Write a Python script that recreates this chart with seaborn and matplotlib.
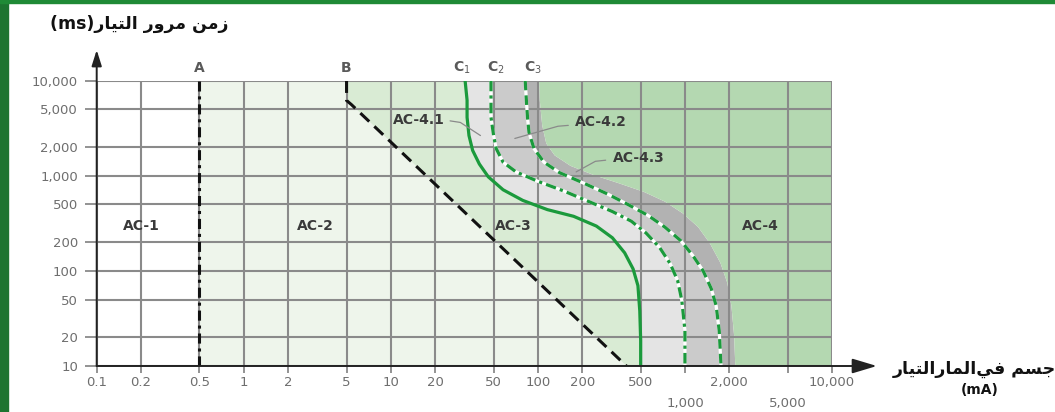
import matplotlib
matplotlib.use("Agg")
import matplotlib.pyplot as plt
import seaborn as sns
from matplotlib.patches import Rectangle
from matplotlib.ticker import FixedLocator, NullLocator

sns.set_theme(style="white")
plt.rcParams['font.family'] = ['DejaVu Sans']

# axis ticks (current in mA, time in ms)
x_ticks = [0.1, 0.2, 0.5, 1, 2, 5, 10, 20, 50, 100, 200, 500, 1000, 2000, 5000, 10000]
x_labels = ['0.1', '0.2', '0.5', '1', '2', '5', '10', '20', '50', '100', '200', '500', '', '2,000', '', '10,000']
x_low_ticks = [1000, 5000]
x_low_labels = ['1,000', '5,000']
y_ticks = [10, 20, 50, 100, 200, 500, 1000, 2000, 5000, 10000]
y_labels = ['10', '20', '50', '100', '200', '500', '1,000', '2,000', '5,000', '10,000']

# boundary curves
line_a_x = [0.5, 0.5]
line_a_y = [10, 10000]
line_b_x = [5, 5, 5.4, 400]
line_b_y = [10000, 6200, 5600, 10]
c1_x = [32, 33, 33, 34, 36, 40, 46, 58, 79, 116, 175, 250, 321, 389, 444, 479, 493, 500, 500]
c1_y = [10000, 6240, 4120, 2650, 1850, 1330, 975, 713, 551, 441, 375, 296, 223, 155, 105, 70, 38, 18.5, 10]
c2_x = [48, 48, 48, 50, 52, 58, 71, 99, 149, 222, 321, 432, 543, 673, 794, 892, 952, 1000, 1000]
c2_y = [10000, 6240, 4120, 2650, 1940, 1390, 1100, 880, 695, 536, 421, 333, 251, 176, 119, 79, 49, 23.6, 10]
c3_x = [82, 83.5, 85, 87, 94, 110, 141, 206, 298, 412, 561, 730, 936, 1135, 1330, 1510, 1630, 1710, 1760]
c3_y = [10000, 6240, 4120, 2860, 1940, 1390, 1075, 834, 643, 497, 383, 289, 208, 144, 100, 65, 43, 23.6, 10]
band_x = [102, 103, 107, 114, 130, 167, 239, 356, 525, 730, 968, 1230, 1480, 1740, 1940, 2070, 2160, 2200]
band_y = [10000, 6240, 3390, 2190, 1640, 1270, 1020, 834, 678, 536, 402, 289, 194, 122, 75, 43, 20.8, 10]

zone_names = ['AC-1', 'AC-2', 'AC-3', 'AC-4']
zone_x = [0.2, 3.05, 68.5, 3240]
zone_y = [296, 296, 296, 296]

# Arabic text, presentation forms in visual order
title_txt = ('(ms)' + '\uFEAD\uFE8E\uFEF4\uFE98\uFEDF\uFE8D' + ' '
             + '\uFEAD\uFEED\uFEAE\uFEE3' + ' ' + '\uFEE6\uFEE3\uFEAF')
xlabel_txt = ('\uFEAD\uFE8E\uFEF4\uFE98\uFEDF\uFE8D' + '\uFEAD\uFE8E\uFEE4\uFEDF\uFE8D'
              + '\uFEF2\uFED3' + ' ' + '\uFEE2\uFEB4\uFE9F')

green = '#1b9a3c'
grid_c = '#8a8a8a'

fig = plt.figure(figsize=(10.55, 4.12), dpi=100)
fig.patch.set_facecolor('white')
ax = fig.add_axes([96.7 / 1055, 46 / 412, 735.3 / 1055, 285.3 / 412])
ax.set_xscale('log')
ax.set_yscale('log')
ax.set_xlim(0.1, 10000)
ax.set_ylim(10, 10000)

# slide border
fig.patches.append(Rectangle((0, 0), 8 / 1055, 1, transform=fig.transFigure, color='#1d7430', zorder=0))
fig.patches.append(Rectangle((0, 1 - 3 / 412), 1, 3 / 412, transform=fig.transFigure, color='#1f8a36', zorder=0))

# zones
ax.fill(line_a_x + line_b_x, line_a_y + line_b_y, color='#eef5eb', lw=0, zorder=0.2)
ax.fill(line_b_x + c1_x[::-1], line_b_y + c1_y[::-1], color='#d9ebd4', lw=0, zorder=0.2)
ax.fill(c1_x + c2_x[::-1], c1_y + c2_y[::-1], color='#e4e4e4', lw=0, zorder=0.2)
ax.fill(c2_x + c3_x[::-1], c2_y + c3_y[::-1], color='#cbcbcb', lw=0, zorder=0.2)
ax.fill(c3_x + band_x[::-1], c3_y + band_y[::-1], color='#b2b2b2', lw=0, zorder=0.2)
ax.fill(band_x + [10000, 10000], band_y + [10, 10000], color='#b4d8b1', lw=0, zorder=0.2)

# grid
ax.set_axisbelow(True)
ax.xaxis.set_major_locator(FixedLocator(x_ticks))
ax.yaxis.set_major_locator(FixedLocator(y_ticks))
ax.xaxis.set_minor_locator(NullLocator())
ax.yaxis.set_minor_locator(NullLocator())
ax.set_xticklabels(x_labels)
ax.set_yticklabels(y_labels)
ax.grid(True, color=grid_c, lw=1.5)
ax.tick_params(axis='y', left=True, length=8.4, width=1.3, color=grid_c, pad=5,
               labelsize=9.5, labelcolor='#6e6e6e')
ax.tick_params(axis='x', bottom=True, length=5, width=1.3, color=grid_c, pad=2,
               labelsize=9.5, labelcolor='#6e6e6e')
for xv, lab in zip(x_low_ticks, x_low_labels):
    ax.text(xv, -0.13, lab, transform=ax.get_xaxis_transform(), ha='center', va='center',
            fontsize=9.5, color='#6e6e6e')
for s in ax.spines.values():
    s.set_visible(False)

# boundary lines
sns.lineplot(x=line_a_x, y=line_a_y, ax=ax, color='#111111', lw=2.2, estimator=None, sort=False,
             linestyle=(0, (3.3, 1.6, 1, 1.6)), zorder=3)
sns.lineplot(x=line_b_x, y=line_b_y, ax=ax, color='#111111', lw=2.2, estimator=None, sort=False,
             linestyle=(0, (4, 2.3)), zorder=3)
sns.lineplot(x=c1_x, y=c1_y, ax=ax, color=green, lw=2.3, estimator=None, sort=False, zorder=3)
sns.lineplot(x=c2_x, y=c2_y, ax=ax, color='white', lw=2.3, estimator=None, sort=False, zorder=3)
sns.lineplot(x=c2_x, y=c2_y, ax=ax, color=green, lw=2.3, estimator=None, sort=False,
             linestyle=(0, (3.3, 1.3, 1, 1.3)), zorder=3.1)
sns.lineplot(x=c3_x, y=c3_y, ax=ax, color='white', lw=2.3, estimator=None, sort=False, zorder=3)
sns.lineplot(x=c3_x, y=c3_y, ax=ax, color=green, lw=2.3, estimator=None, sort=False,
             linestyle=(0, (3, 1.6)), zorder=3.1)

# zone labels
for name, xv, yv in zip(zone_names, zone_x, zone_y):
    ax.text(xv, yv, name, ha='center', va='center', fontsize=10, weight='bold', color='#3a3a3a', zorder=5)
ax.text(15.6, 3830, 'AC-4.1', ha='center', va='center', fontsize=10, weight='bold', color='#3a3a3a', zorder=5)
ax.text(268, 3640, 'AC-4.2', ha='center', va='center', fontsize=10, weight='bold', color='#3a3a3a', zorder=5)
ax.text(485, 1531, 'AC-4.3', ha='center', va='center', fontsize=10, weight='bold', color='#3a3a3a', zorder=5)
ax.plot([25.3, 29.7, 40.7], [3780, 3640, 2650], color='#8a8a8a', lw=0.9, zorder=5)
ax.plot([161, 137, 69.7], [3390, 3320, 2470], color='#8a8a8a', lw=0.9, zorder=5)
ax.plot([289, 246, 182], [1459, 1420, 1099], color='#8a8a8a', lw=0.9, zorder=5)

# curve letters above the top
top_lab = [('A', 0.5), ('B', 5), ('C$_1$', 30.6), ('C$_2$', 51.5), ('C$_3$', 92)]
for lab, xv in top_lab:
    ax.text(xv, 13600, lab, ha='center', va='center', fontsize=10, weight='bold',
            color='#5a5a5a', clip_on=False)

# axis arrows
ax.annotate('', xy=(1.061, 0), xytext=(0, 0), xycoords='axes fraction', annotation_clip=False,
            arrowprops=dict(arrowstyle='-|>,head_length=1.5,head_width=0.45', mutation_scale=10,
                            color='#222222', lw=1.4, shrinkA=0, shrinkB=0), zorder=6)
ax.annotate('', xy=(0, 1.1076), xytext=(0, 0), xycoords='axes fraction', annotation_clip=False,
            arrowprops=dict(arrowstyle='-|>,head_length=0.95,head_width=0.3', mutation_scale=10,
                            color='#222222', lw=1.4, shrinkA=0, shrinkB=0), zorder=6)

# titles
fig.text(50 / 1055, 1 - 24 / 412, title_txt, ha='left', va='center', fontsize=12.5, weight='bold', color='#111111')
fig.text(893 / 1055, 1 - 369 / 412, xlabel_txt, ha='left', va='center', fontsize=12.5, weight='bold', color='#111111')
fig.text(980 / 1055, 1 - 390 / 412, '(mA)', ha='center', va='center', fontsize=10, weight='bold', color='#111111')

fig.savefig('out.png', dpi=100)
